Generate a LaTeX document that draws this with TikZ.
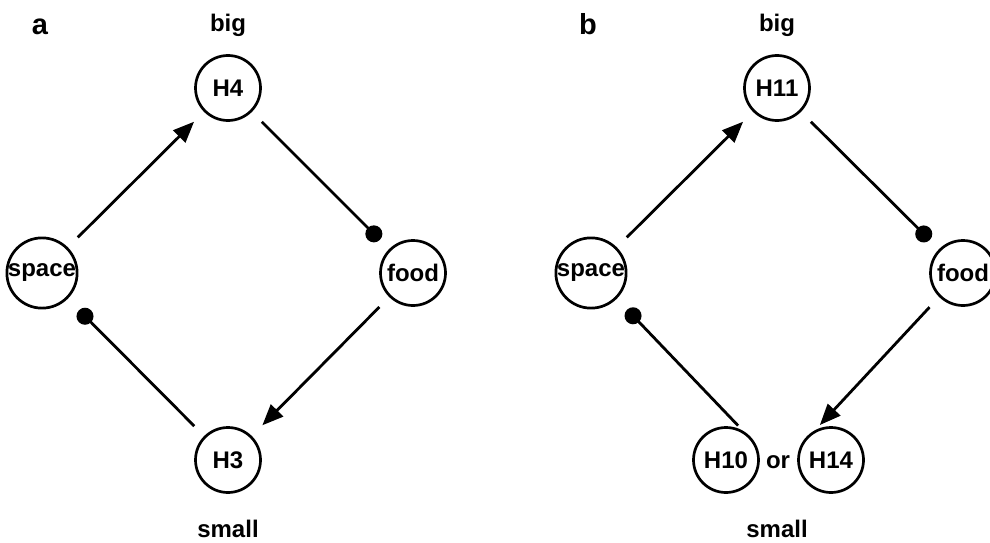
\documentclass[tikz,border=0pt]{standalone}
\usepackage{fontspec}
\setmainfont{Liberation Sans}
\usepackage{tikz}
\usetikzlibrary{arrows.meta}
\tikzset{>={Triangle[width=17pt,length=21pt]}}
\tikzset{
  hub/.style={draw=black, circle, line width=2.7pt, minimum size=65pt, inner sep=0pt},
  dotend/.style={-{Circle[length=17pt]}},
}

\begin{document}
\begin{tikzpicture}[x=1pt, y=-1pt, line width=2.8pt, font=\fontsize{24}{28}\selectfont\bfseries]
    \useasboundingbox (0,0) rectangle (990,543);

    % panel a
    \node[anchor=base] (labA) at (40,35) {\fontsize{29}{32}\selectfont a};
    \node[anchor=base] (bigA) at (228,32) {big};
    \node[anchor=base] (smallA) at (228,537) {small};

    \node[hub] (H4) at (228,88) {H4};
    \node[hub] (spaceA) at (42,273) {space};
    \node[hub] (foodA) at (413,273) {food};
    \node[hub] (H3) at (228,460) {H3};

    \draw[->, shorten <=14pt, shorten >=14pt] (spaceA) -- (H4);
    \draw[dotend, shorten <=14pt, shorten >=13pt] (H4) -- (foodA);
    \draw[->, shorten <=14pt, shorten >=15pt] (foodA) -- (H3);
    \draw[dotend, shorten <=14pt, shorten >=16pt] (H3) -- (spaceA);

    % panel b
    \node[anchor=base] (labB) at (588,35) {\fontsize{29}{32}\selectfont b};
    \node[anchor=base] (bigB) at (777,32) {big};
    \node[anchor=base] (smallB) at (777,537) {small};

    \node[hub] (H11) at (777,88) {H11};
    \node[hub] (spaceB) at (591,273) {space};
    \node[hub] (foodB) at (963,273) {food};
    \node[hub] (H10) at (726,460) {H10};
    \node[hub] (H14) at (831,460) {H14};
    \node[anchor=base] (or) at (H10.base -| 778,0) {or};

    \draw[->, shorten <=14pt, shorten >=14pt] (spaceB) -- (H11);
    \draw[dotend, shorten <=14pt, shorten >=13pt] (H11) -- (foodB);
    \draw[->, shorten <=14pt, shorten >=7pt] (foodB.225) -- (H14.118);
    \draw[dotend, shorten <=7pt, shorten >=15pt] (H10.60) -- (spaceB.-45);
\end{tikzpicture}
\end{document}
